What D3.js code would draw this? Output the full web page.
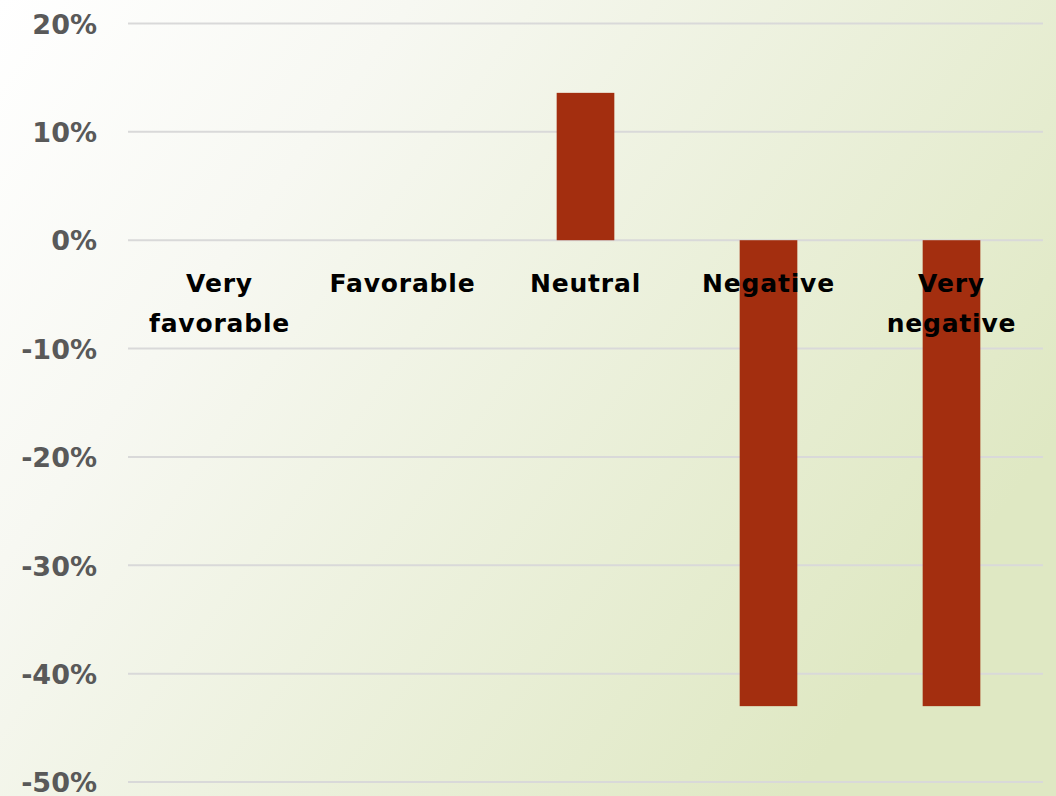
<!DOCTYPE html>
<html>
<head>
<meta charset="utf-8">
<script src="https://cdn.jsdelivr.net/npm/d3@7"></script>
<style>
  html, body { margin: 0; padding: 0; background: #fff; }
  svg { display: block; }
</style>
</head>
<body>
<svg id="chart" width="1056" height="796"></svg>
<script>
// Sentiment distribution (share of responses, percent)
const categories = ["Very favorable", "Favorable", "Neutral", "Negative", "Very negative"];
const values = [0, 0, 13.6, -43, -43];
const tickValues = [20, 10, 0, -10, -20, -30, -40, -50];

const W = 1056, H = 796;
const margin = { left: 128, right: 13, top: 23.5, bottom: 14 };

const svg = d3.select("#chart");

// Background wash
const defs = svg.append("defs");
const grad = defs.append("linearGradient")
  .attr("id", "bg")
  .attr("x1", 0).attr("y1", 0).attr("x2", 1).attr("y2", 0.55);
grad.append("stop").attr("offset", "0").attr("stop-color", "#ffffff");
grad.append("stop").attr("offset", "0.3").attr("stop-color", "#f7f8f2");
grad.append("stop").attr("offset", "1").attr("stop-color", "#dfe8c3");
svg.append("rect").attr("width", W).attr("height", H).attr("fill", "url(#bg)");

const x = d3.scaleBand()
  .domain(categories)
  .range([margin.left, W - margin.right])
  .paddingInner(0.685)
  .paddingOuter(0.3425);

const y = d3.scaleLinear()
  .domain([-50, 20])
  .range([H - margin.bottom, margin.top]);

const fontFamily = "'Century Gothic', 'DejaVu Sans', sans-serif";

// Gridlines
svg.append("g")
  .selectAll("line")
  .data(tickValues)
  .join("line")
  .attr("x1", margin.left)
  .attr("x2", W - margin.right)
  .attr("y1", d => y(d))
  .attr("y2", d => y(d))
  .attr("stroke", "#d9d9d9")
  .attr("stroke-width", 2);

// Y axis labels
const yAxis = d3.axisLeft(y)
  .tickValues(tickValues)
  .tickFormat(d => d + "%")
  .tickSize(0)
  .tickPadding(0);
const yg = svg.append("g")
  .attr("transform", `translate(97,0)`)
  .call(yAxis);
yg.select(".domain").remove();
yg.selectAll("text")
  .attr("fill", "#595959")
  .attr("font-family", fontFamily)
  .attr("font-weight", "bold")
  .attr("font-size", 27)
  .attr("dy", "0.36em");

// Bars
svg.append("g")
  .selectAll("rect")
  .data(categories.map((c, i) => ({ c, v: values[i] })).filter(d => d.v !== 0))
  .join("rect")
  .attr("x", d => x(d.c))
  .attr("width", x.bandwidth())
  .attr("y", d => y(Math.max(0, d.v)))
  .attr("height", d => Math.abs(y(d.v) - y(0)))
  .attr("fill", "#a32e0f");

// Category labels (drawn on top of bars, just below the zero line)
const labelLines = {
  "Very favorable": ["Very", "favorable"],
  "Favorable": ["Favorable"],
  "Neutral": ["Neutral"],
  "Negative": ["Negative"],
  "Very negative": ["Very", "negative"]
};
const xg = svg.append("g");
categories.forEach(c => {
  const t = xg.append("text")
    .attr("x", x(c) + x.bandwidth() / 2)
    .attr("y", y(0) + 52)
    .attr("text-anchor", "middle")
    .attr("font-family", fontFamily)
    .attr("font-weight", "bold")
    .attr("font-size", 25)
    .attr("letter-spacing", 0.8)
    .attr("fill", "#000");
  labelLines[c].forEach((line, i) => {
    t.append("tspan")
      .attr("x", x(c) + x.bandwidth() / 2)
      .attr("dy", i === 0 ? 0 : 39.5)
      .text(line);
  });
});
</script>
</body>
</html>
